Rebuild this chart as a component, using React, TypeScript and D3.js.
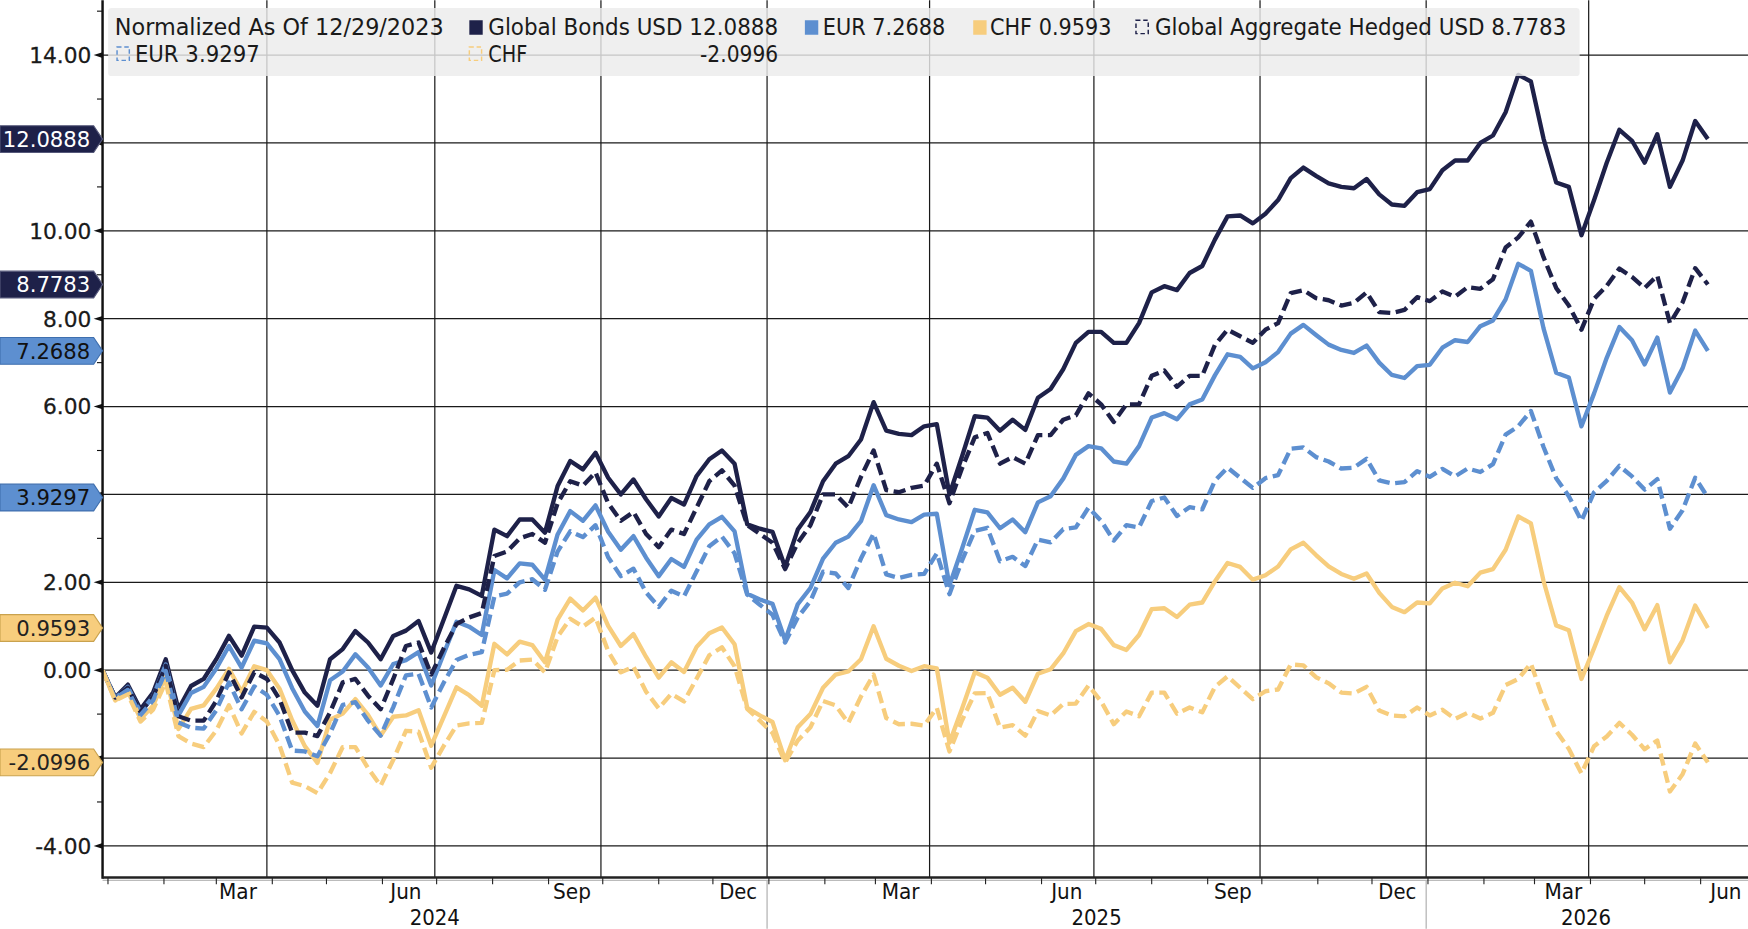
import { line, scaleLinear, scaleTime, timeDay, timeMonth } from "d3";

const START = new Date(2023, 11, 29);
const END = new Date(2026, 5, 26);

// weekly closes, normalized to 12/29/2023
const usd = [0,-0.62,-0.33,-0.89,-0.51,0.25,-0.89,-0.36,-0.2,0.25,
  0.78,0.33,0.99,0.97,0.63,0,-0.51,-0.81,0.25,0.48,
  0.89,0.63,0.25,0.78,0.9,1.12,0.4,1.16,1.92,1.84,
  1.69,3.2,3.05,3.43,3.43,3.13,4.19,4.76,4.57,4.95,
  4.38,4,4.34,3.89,3.5,3.92,3.77,4.42,4.8,5,
  4.7,3.32,3.22,3.15,2.35,3.2,3.6,4.3,4.7,4.87,
  5.25,6.1,5.45,5.38,5.35,5.55,5.6,4,4.87,5.78,
  5.75,5.45,5.7,5.47,6.2,6.4,6.85,7.45,7.7,7.7,
  7.45,7.45,7.9,8.6,8.74,8.65,9.04,9.2,9.8,10.33,
  10.35,10.17,10.39,10.7,11.2,11.44,11.25,11.08,11,10.97,
  11.18,10.83,10.6,10.57,10.88,10.95,11.38,11.6,11.6,12,
  12.17,12.7,13.55,13.4,12.1,11.1,11,9.9,10.7,11.55,
  12.3,12.05,11.55,12.2,11.0,11.6,12.5,12.0888]

const eur = [0,-0.64,-0.38,-0.96,-0.6,0.13,-1.03,-0.52,-0.38,0.04,
  0.55,0.06,0.67,0.61,0.25,-0.41,-0.94,-1.27,-0.23,-0.03,
  0.36,0.06,-0.35,0.14,0.23,0.41,-0.35,0.38,1.1,0.99,
  0.8,2.28,2.09,2.43,2.4,2.06,3.09,3.62,3.4,3.75,
  3.15,2.74,3.05,2.56,2.14,2.53,2.35,2.97,3.32,3.49,
  3.16,1.74,1.61,1.51,0.68,1.5,1.87,2.54,2.9,3.04,
  3.39,4.21,3.53,3.43,3.37,3.54,3.56,1.93,2.77,3.65,
  3.59,3.23,3.43,3.14,3.82,3.96,4.36,4.9,5.1,5.05,
  4.75,4.7,5.1,5.75,5.85,5.71,6.05,6.16,6.71,7.19,
  7.13,6.87,7.01,7.24,7.66,7.86,7.63,7.41,7.29,7.22,
  7.39,7,6.72,6.65,6.92,6.95,7.34,7.51,7.47,7.83,
  7.96,8.44,9.25,9.09,7.78,6.77,6.66,5.55,6.3,7.11,
  7.81,7.51,6.96,7.57,6.32,6.87,7.73,7.2688]

const chf = [0,-0.69,-0.48,-1.11,-0.81,-0.12,-1.34,-0.88,-0.8,-0.42,
  0.03,-0.49,0.09,0,-0.42,-1.14,-1.73,-2.11,-1.13,-0.99,
  -0.66,-1.02,-1.49,-1.06,-1.03,-0.91,-1.72,-1.06,-0.39,-0.57,
  -0.81,0.6,0.36,0.65,0.57,0.18,1.15,1.63,1.36,1.65,
  1.01,0.55,0.82,0.3,-0.17,0.18,-0.04,0.53,0.84,0.97,
  0.59,-0.86,-1.03,-1.18,-2.05,-1.3,-1,-0.4,-0.1,-0.03,
  0.25,1,0.26,0.1,-0.02,0.09,0.04,-1.65,-0.87,-0.05,
  -0.17,-0.56,-0.4,-0.72,-0.08,0.02,0.38,0.89,1.05,0.94,
  0.57,0.46,0.8,1.39,1.41,1.21,1.49,1.54,2.02,2.44,
  2.35,2.06,2.16,2.36,2.75,2.9,2.62,2.36,2.19,2.08,
  2.2,1.76,1.44,1.32,1.54,1.52,1.86,1.99,1.91,2.22,
  2.3,2.74,3.5,3.34,2.03,1.02,0.91,-0.2,0.5,1.24,
  1.89,1.54,0.93,1.48,0.18,0.68,1.47,0.9593]

const aggUsd = [0,-0.62,-0.4,-0.95,-0.6,0.1,-1.05,-1.15,-1.15,-0.7,
  -0.05,-0.62,-0.05,-0.2,-0.66,-1.42,-1.42,-1.5,-0.96,-0.28,
  -0.2,-0.58,-0.89,-0.2,0.55,0.63,-0.1,0.5,1.05,1.2,
  1.3,2.6,2.7,3,3.1,2.9,3.8,4.3,4.2,4.5,
  3.8,3.4,3.6,3.1,2.8,3.2,3.1,3.7,4.3,4.55,
  4.2,3.3,3.1,2.9,2.3,2.9,3.3,4,4,3.7,
  4.4,5,4.1,4.05,4.15,4.2,4.7,3.8,4.6,5.3,
  5.4,4.7,4.85,4.7,5.35,5.35,5.7,5.8,6.3,6.05,
  5.65,6.05,6.05,6.7,6.82,6.45,6.7,6.7,7.4,7.75,
  7.6,7.45,7.75,7.9,8.58,8.65,8.47,8.42,8.3,8.36,
  8.6,8.15,8.13,8.2,8.49,8.4,8.62,8.5,8.72,8.68,
  8.9,9.62,9.85,10.21,9.4,8.7,8.3,7.75,8.45,8.75,
  9.14,8.95,8.7,8.98,7.9,8.37,9.15,8.7783]

const aggEur = [0,-0.64,-0.45,-1.02,-0.69,-0.02,-1.19,-1.31,-1.33,-0.91,
  -0.28,-0.89,-0.37,-0.56,-1.04,-1.83,-1.85,-1.96,-1.44,-0.79,
  -0.73,-1.15,-1.49,-0.84,-0.12,-0.08,-0.85,-0.28,0.23,0.35,
  0.41,1.68,1.74,2,2.07,1.83,2.7,3.16,3.03,3.3,
  2.57,2.14,2.31,1.77,1.44,1.81,1.68,2.25,2.82,3.04,
  2.66,1.72,1.49,1.26,0.63,1.2,1.57,2.24,2.2,1.87,
  2.54,3.11,2.18,2.1,2.17,2.19,2.66,1.73,2.5,3.17,
  3.24,2.48,2.58,2.37,2.97,2.91,3.21,3.25,3.7,3.4,
  2.95,3.3,3.25,3.85,3.93,3.51,3.71,3.66,4.31,4.61,
  4.38,4.15,4.37,4.44,5.04,5.07,4.85,4.75,4.59,4.61,
  4.81,4.32,4.25,4.28,4.53,4.4,4.58,4.41,4.59,4.51,
  4.69,5.36,5.55,5.9,5.08,4.37,3.96,3.4,4.05,4.31,
  4.65,4.41,4.11,4.35,3.22,3.64,4.38,3.9297]

const aggChf = [0,-0.69,-0.55,-1.17,-0.9,-0.27,-1.5,-1.67,-1.75,-1.37,
  -0.8,-1.44,-0.95,-1.17,-1.71,-2.56,-2.64,-2.8,-2.34,-1.75,
  -1.75,-2.23,-2.63,-2.04,-1.38,-1.4,-2.22,-1.72,-1.26,-1.21,
  -1.2,0,0.01,0.22,0.24,-0.05,0.76,1.17,0.99,1.2,
  0.43,-0.05,0.08,-0.49,-0.87,-0.54,-0.71,-0.19,0.34,0.52,
  0.09,-0.88,-1.15,-1.43,-2.1,-1.6,-1.3,-0.7,-0.8,-1.2,
  -0.6,-0.1,-1.09,-1.23,-1.22,-1.26,-0.86,-1.85,-1.14,-0.53,
  -0.52,-1.31,-1.25,-1.49,-0.93,-1.03,-0.77,-0.76,-0.35,-0.71,
  -1.23,-0.94,-1.05,-0.51,-0.51,-0.99,-0.85,-0.96,-0.38,-0.14,
  -0.4,-0.66,-0.48,-0.44,0.13,0.11,-0.16,-0.3,-0.51,-0.53,
  -0.38,-0.92,-1.03,-1.05,-0.85,-1.03,-0.9,-1.11,-0.97,-1.1,
  -0.97,-0.34,-0.2,0.15,-0.67,-1.38,-1.79,-2.35,-1.73,-1.51,
  -1.2,-1.47,-1.8,-1.6,-2.76,-2.37,-1.67,-2.0996]

const dates = usd.map((_, i) => timeDay.offset(START, i * 7))

const gridValues = [-4, -2, 0, 2, 4, 6, 8, 10, 12, 14]
const minorValues = [-3, -1, 1, 3, 5, 7, 9, 11, 13, 15]
const tickLabels = [-4, 0, 2, 6, 8, 10, 14]
const quarterEnds = [
  new Date(2024, 2, 29), new Date(2024, 5, 30), new Date(2024, 8, 30), new Date(2024, 11, 31),
  new Date(2025, 2, 31), new Date(2025, 5, 30), new Date(2025, 8, 30), new Date(2025, 11, 31),
  new Date(2026, 2, 31),
]
const monthLabels = ["Mar", "Jun", "Sep", "Dec", "Mar", "Jun", "Sep", "Dec", "Mar", "Jun"]
const monthLabelDates = [
  new Date(2024, 2, 13), new Date(2024, 5, 14), new Date(2024, 8, 14), new Date(2024, 11, 15),
  new Date(2025, 2, 15), new Date(2025, 5, 15), new Date(2025, 8, 15), new Date(2025, 11, 15),
  new Date(2026, 2, 17), new Date(2026, 5, 15),
]
const years = ["2024", "2025", "2026"]

const NAVY = "#1e2149"
const BLUE = "#5d8fd0"
const YELLOW = "#f7cd7d"

const series = [
  { name: "Global Bonds USD", values: usd, color: NAVY, dashed: false, tagText: "#fff" },
  { name: "EUR", values: eur, color: BLUE, dashed: false, tagText: "#111" },
  { name: "CHF", values: chf, color: YELLOW, dashed: false, tagText: "#222" },
  { name: "Global Aggregate Hedged USD", values: aggUsd, color: NAVY, dashed: true, tagText: "#fff" },
  { name: "EUR", values: aggEur, color: BLUE, dashed: true, tagText: "#111" },
  { name: "CHF", values: aggChf, color: YELLOW, dashed: true, tagText: "#222" },
]

const W = 1568
const H = 833
const LEFT = 92
const RIGHT = 1566
const BOTTOM = 787

export default function App() {
  const x = scaleTime().domain([START, END]).range([LEFT, RIGHT])
  const y = scaleLinear().domain([-4.72, 15.25]).range([BOTTOM, 0])

  const path = line<number>()
    .x((_, i) => x(dates[i]))
    .y((d) => y(d))

  const last = (s: number[]) => s[s.length - 1]
  const fmt = (v: number) => v.toFixed(4)
  const font = "'DejaVu Sans', Verdana, sans-serif"

  const yearBounds = [START, new Date(2024, 11, 31), new Date(2025, 11, 31), END]

  const dashIcon = (px: number, py: number, color: string) => (
    <rect x={px} y={py} width={11} height={12} fill="none" stroke={color}
      strokeWidth={1.3} strokeDasharray="4 2.5" />
  )

  return (
    <div style={{ position: "fixed", left: 0, top: 0, width: 1748, height: 929, background: "#fff" }}>
      <svg width={1748} height={929} viewBox={`0 0 ${W} ${H}`} style={{ display: "block" }}>
        <defs>
          <clipPath id="plot">
            <rect x={LEFT} y={0} width={RIGHT - LEFT} height={BOTTOM} />
          </clipPath>
        </defs>
        <rect x={0} y={0} width={W} height={H} fill="#fff" />

        {/* grid */}
        {gridValues.map((v) => (
          <line key={v} x1={LEFT} x2={W} y1={y(v)} y2={y(v)} stroke="#1a1a1a" strokeWidth={1.1} />
        ))}
        {quarterEnds.map((d, i) => (
          <line key={i} x1={x(d)} x2={x(d)} y1={0} y2={BOTTOM} stroke="#1a1a1a" strokeWidth={1.1} />
        ))}

        {/* lines */}
        <g clipPath="url(#plot)" fill="none" strokeLinejoin="round">
          {series.map((s, i) => (
            <path key={i} d={path(s.values) ?? ""} stroke={s.color} strokeWidth={3.9}
              strokeDasharray={s.dashed ? "11 5" : undefined} />
          ))}
        </g>

        {/* axes */}
        <line x1={LEFT} x2={LEFT} y1={0} y2={BOTTOM + 1} stroke="#111" strokeWidth={2.2} />
        <line x1={LEFT} x2={W} y1={BOTTOM} y2={BOTTOM} stroke="#222" strokeWidth={2.2} />
        <line x1={LEFT} x2={W} y1={BOTTOM + 2.5} y2={BOTTOM + 2.5} stroke="#bbb" strokeWidth={1} />
        {gridValues.map((v) => (
          <path key={v} d={`M${LEFT - 8},${y(v)} L${LEFT},${y(v) - 2.5} L${LEFT},${y(v) + 2.5} Z`} fill="#111" />
        ))}
        {minorValues.map((v) => (
          <line key={v} x1={LEFT - 5} x2={LEFT} y1={y(v)} y2={y(v)} stroke="#111" strokeWidth={1} />
        ))}
        {tickLabels.map((v) => (
          <text key={v} x={82} y={y(v) + 7} textAnchor="end" fontFamily={font} fontSize={19.5}
            fill="#1a1a1a" stroke="#1a1a1a" strokeWidth={0.25}>
            {v.toFixed(2)}
          </text>
        ))}
        {timeMonth.range(new Date(2024, 0, 1), END).map((d, i) => (
          <line key={i} x1={x(d)} x2={x(d)} y1={BOTTOM} y2={BOTTOM + 6} stroke="#222" strokeWidth={1} />
        ))}
        {monthLabels.map((m, i) => (
          <text key={i} x={x(monthLabelDates[i])} y={806} textAnchor="middle" fontFamily={font}
            fontSize={19.5} textLength={m === "Jun" ? 28 : 34} lengthAdjust="spacingAndGlyphs" fill="#111">
            {m}
          </text>
        ))}
        {[1, 2].map((k) => (
          <line key={k} x1={x(yearBounds[k])} x2={x(yearBounds[k])} y1={BOTTOM + 3} y2={H}
            stroke="#aaa" strokeWidth={1} />
        ))}
        {years.map((yr, i) => (
          <text key={yr} x={(x(yearBounds[i]) + x(yearBounds[i + 1])) / 2} y={830} textAnchor="middle"
            fontFamily={font} fontSize={19.5} textLength={45} lengthAdjust="spacingAndGlyphs" fill="#111">
            {yr}
          </text>
        ))}

        {/* value tags */}
        {series.map((s, i) => {
          const ty = y(last(s.values))
          return (
            <g key={i}>
              <path d={`M0,${ty - 12} L84,${ty - 12} L92,${ty} L84,${ty + 12} L0,${ty + 12} Z`}
                fill={s.color} stroke={s.color === NAVY ? "#55587a" : s.color === BLUE ? "#3f6fae" : "#c9a24e"}
                strokeWidth={1} />
              <text x={81} y={ty + 7} textAnchor="end" fontFamily={font} fontSize={19} fill={s.tagText}>
                {fmt(last(s.values))}
              </text>
            </g>
          )
        })}

        {/* legend */}
        <rect x={97} y={7} width={1320} height={61} rx={3} fill="#ececec" opacity={0.82} />
        <g fontFamily={font} fontSize={20} fill="#1a1a1a">
          <text x={103} y={31} textLength={295} lengthAdjust="spacingAndGlyphs">Normalized As Of 12/29/2023</text>
          <rect x={421} y={18} width={12} height={13} fill={NAVY} />
          <text x={438} y={31} textLength={260} lengthAdjust="spacingAndGlyphs">{`${series[0].name} ${fmt(last(usd))}`}</text>
          <rect x={722} y={18} width={12} height={13} fill={BLUE} />
          <text x={738} y={31} textLength={110} lengthAdjust="spacingAndGlyphs">{`${series[1].name} ${fmt(last(eur))}`}</text>
          <rect x={873} y={18} width={12} height={13} fill={YELLOW} />
          <text x={888} y={31} textLength={109} lengthAdjust="spacingAndGlyphs">{`${series[2].name} ${fmt(last(chf))}`}</text>
          {dashIcon(1019, 18, NAVY)}
          <text x={1036} y={31} textLength={369} lengthAdjust="spacingAndGlyphs">{`${series[3].name} ${fmt(last(aggUsd))}`}</text>
          {dashIcon(105, 42, BLUE)}
          <text x={121} y={55} textLength={112} lengthAdjust="spacingAndGlyphs">{`${series[4].name} ${fmt(last(aggEur))}`}</text>
          {dashIcon(421, 42, YELLOW)}
          <text x={438} y={55} textLength={35} lengthAdjust="spacingAndGlyphs">{series[5].name}</text>
          <text x={698} y={55} textAnchor="end" textLength={70} lengthAdjust="spacingAndGlyphs">{fmt(last(aggChf))}</text>
        </g>
      </svg>
    </div>
  )
}
